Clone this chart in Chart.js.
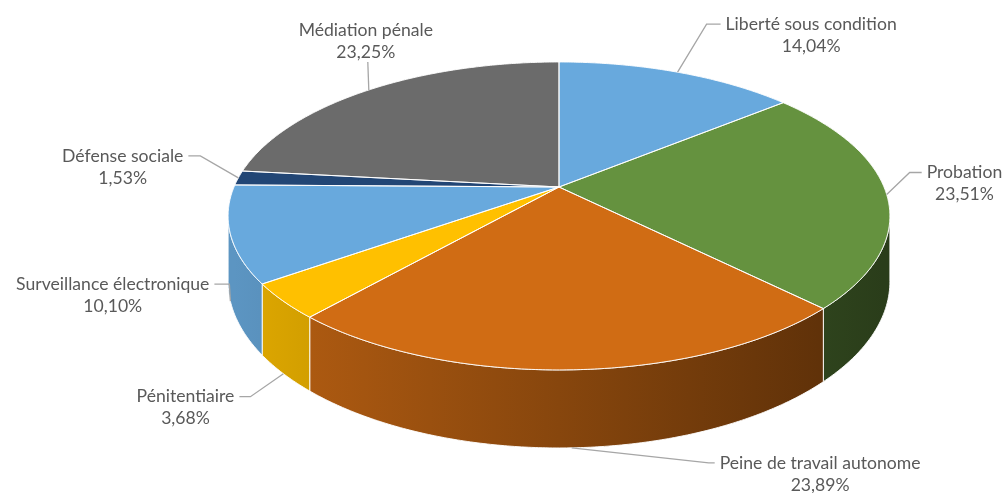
<!DOCTYPE html>
<html>
<head>
<meta charset="utf-8">
<script src="https://cdn.jsdelivr.net/npm/chart.js@4.4.1/dist/chart.umd.min.js"></script>
<style>
  html, body { margin: 0; padding: 0; background: #ffffff; }
  #wrap { width: 1008px; height: 493px; position: relative; }
</style>
</head>
<body>
<div id="wrap"><canvas id="chart"></canvas></div>
<script>
// Répartition des mesures (en % du total)
const categories = [
  'Liberté sous condition',
  'Probation',
  'Peine de travail autonome',
  'Pénitentiaire',
  'Surveillance électronique',
  'Défense sociale',
  'Médiation pénale'
];
const shares = [14.04, 23.51, 23.89, 3.68, 10.10, 1.53, 23.25];
const sliceColors = ['#68A9DD', '#65923F', '#D06C14', '#FFC000', '#68A9DD', '#224675', '#6B6B6B'];

// Leader line for each label: elbow offset from the slice anchor, then a short horizontal run
const labelGuides = [
  { dx: 29, dy: -48, run: 14 },
  { dx: 23, dy: -22, run: 12 },
  { dx: 137, dy: 15, run: 6 },
  { dx: -33, dy: 23, run: -11 },
  { dx: -1, dy: -17, run: -15 },
  { dx: -38, dy: -22, run: -12 },
  { dx: -1, dy: -28, run: 0 }
];

// Tilted, slightly perspective view of the pie
const VIEW = { tilt: 0.457, perspective: 0.188, depth: 0.195 };
const STEP = Math.PI / 360;

const formatPct = v => v.toFixed(2).replace('.', ',') + '%';

function shade(hex, f) {
  const n = parseInt(hex.slice(1), 16);
  const r = Math.round(((n >> 16) & 255) * f);
  const g = Math.round(((n >> 8) & 255) * f);
  const b = Math.round((n & 255) * f);
  return `rgb(${r},${g},${b})`;
}

function project(g, ang, lower) {
  const u = Math.cos(ang), v = Math.sin(ang);
  const w = 1 - g.p * v;
  return [g.cx + g.R * u / w, g.cy + (g.R * g.tilt * v + (lower ? g.R * g.depth : 0)) / w];
}

function arcPoints(g, a, b, lower) {
  const pts = [];
  const n = Math.max(1, Math.ceil((b - a) / STEP));
  for (let i = 0; i <= n; i++) pts.push(project(g, a + (b - a) * i / n, lower));
  return pts;
}

function geometry(chart) {
  const meta = chart.getDatasetMeta(0);
  const arcs = meta.data.map(el => el.getProps(['x', 'y', 'startAngle', 'endAngle', 'outerRadius'], true));
  const a0 = arcs[0];
  return {
    arcs,
    cx: a0.x, cy: a0.y, R: a0.outerRadius,
    tilt: VIEW.tilt, p: VIEW.perspective, depth: VIEW.depth
  };
}

const pie3d = {
  id: 'pie3d',
  beforeDatasetsDraw(chart) {
    const ctx = chart.ctx;
    const g = geometry(chart);
    const frontStart = Math.asin(g.p);
    const frontEnd = Math.PI - frontStart;
    ctx.save();
    ctx.lineJoin = 'round';
    ctx.strokeStyle = 'rgba(255,255,255,0.9)';
    ctx.lineWidth = 1;

    // Outer walls (only the part turned towards the viewer)
    g.arcs.forEach((arc, i) => {
      const s = Math.max(arc.startAngle, frontStart);
      const e = Math.min(arc.endAngle, frontEnd);
      if (e <= s) return;
      const top = arcPoints(g, s, e, false);
      const bottom = arcPoints(g, s, e, true).reverse();
      const grad = ctx.createLinearGradient(g.cx - g.R, 0, g.cx + g.R, 0);
      grad.addColorStop(0, shade(sliceColors[i], 0.88));
      grad.addColorStop(1, shade(sliceColors[i], 0.42));
      ctx.beginPath();
      top.concat(bottom).forEach(([x, y], k) => k ? ctx.lineTo(x, y) : ctx.moveTo(x, y));
      ctx.closePath();
      ctx.fillStyle = grad;
      ctx.fill();
      ctx.stroke();
    });

    // Top faces
    const faces = g.arcs.map(arc => {
      const path = new Path2D();
      path.moveTo(g.cx, g.cy);
      arcPoints(g, arc.startAngle, arc.endAngle, false).forEach(([x, y]) => path.lineTo(x, y));
      path.closePath();
      return path;
    });
    faces.forEach((path, i) => { ctx.fillStyle = sliceColors[i]; ctx.fill(path); });
    faces.forEach(path => ctx.stroke(path));
    ctx.restore();
    return false;
  },
  afterDraw(chart) {
    const ctx = chart.ctx;
    const g = geometry(chart);
    ctx.save();
    ctx.font = '17.6px Lato';
    ctx.fillStyle = '#595959';
    ctx.strokeStyle = '#A6A6A6';
    ctx.lineWidth = 1.3;
    ctx.textBaseline = 'middle';
    ctx.textAlign = 'center';
    g.arcs.forEach((arc, i) => {
      const mid = (arc.startAngle + arc.endAngle) / 2;
      const [ax, ay] = project(g, mid, Math.sin(mid) > 0.2);
      const guide = labelGuides[i];
      const ex = ax + guide.dx, ey = ay + guide.dy;
      const endX = ex + guide.run;
      ctx.beginPath();
      ctx.moveTo(ax, ay);
      ctx.lineTo(ex, ey);
      ctx.lineTo(endX, ey);
      ctx.stroke();
      const lines = [categories[i], formatPct(shares[i])];
      const w = Math.max(...lines.map(t => ctx.measureText(t).width));
      let cx, y1;
      if (guide.run > 0) { cx = endX + 5 + w / 2; y1 = ey; }
      else if (guide.run < 0) { cx = endX - 5 - w / 2; y1 = ey; }
      else { cx = ex - 2; y1 = ey - 32; }
      ctx.fillText(lines[0], cx, y1);
      ctx.fillText(lines[1], cx, y1 + 22);
    });
    ctx.restore();
  }
};

new Chart(document.getElementById('chart'), {
  type: 'pie',
  data: {
    labels: categories,
    datasets: [{ data: shares, backgroundColor: sliceColors, borderWidth: 0 }]
  },
  options: {
    responsive: true,
    maintainAspectRatio: false,
    animation: false,
    radius: 325,
    layout: { padding: { left: 110, right: 0, top: 0, bottom: 119 } },
    plugins: { legend: { display: false }, tooltip: { enabled: false } }
  },
  plugins: [pie3d]
});
</script>
</body>
</html>
